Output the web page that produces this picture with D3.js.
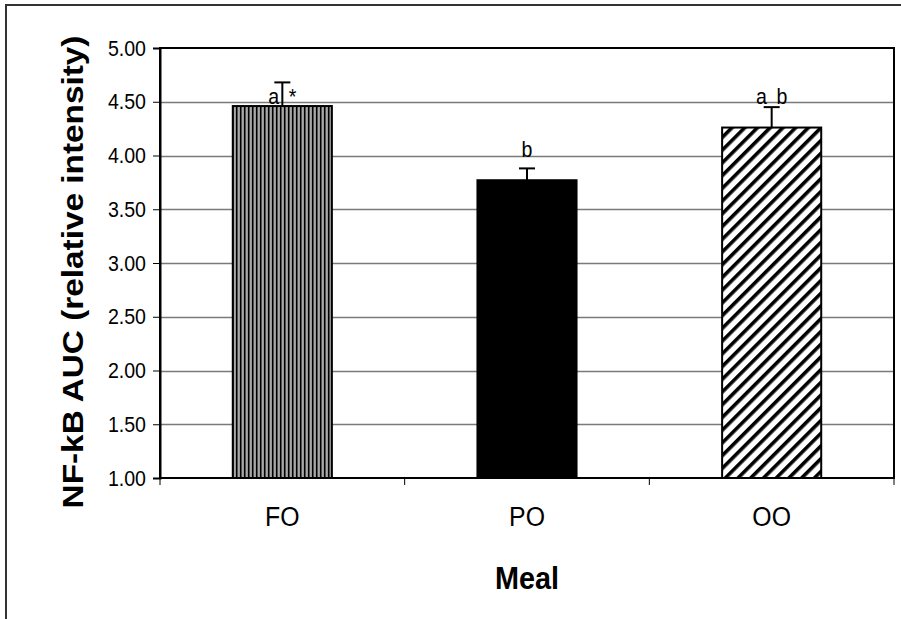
<!DOCTYPE html>
<html>
<head>
<meta charset="utf-8">
<script src="https://cdn.jsdelivr.net/npm/d3@7"></script>
<style>
  html, body { margin: 0; padding: 0; background: #fff; }
  svg { display: block; }
  text { font-family: Arial, "Liberation Sans", sans-serif; }
</style>
</head>
<body>
<svg id="chart" width="901" height="619"></svg>
<script>
// Meal groups and NF-kB AUC means with upper error
const meals = ["FO", "PO", "OO"];
const means = [4.46, 3.77, 4.26];
const errors = [0.22, 0.11, 0.19];
const sigLabels = ["a\u2002*", "b", "a\u2002b"];
const sigLabelY = [4.48, 3.99, 4.48];
const yTicks = [1.0, 1.5, 2.0, 2.5, 3.0, 3.5, 4.0, 4.5, 5.0];
const fills = ["url(#vstripe)", "#000", "url(#dstripe)"];

const svg = d3.select("#chart");
const W = 901, H = 619;
const m = { left: 160, right: 7, top: 48, bottom: 141 };
const pw = W - m.left - m.right, ph = H - m.top - m.bottom;
const sx = 0.89; // horizontal squeeze applied to text glyphs

// frame around the whole figure (top and left edges show)
svg.append("rect").attr("x", 6).attr("y", 5).attr("width", W).attr("height", H)
  .attr("fill", "none").attr("stroke", "#333").attr("stroke-width", 2);

const defs = svg.append("defs");
const vp = defs.append("pattern").attr("id", "vstripe").attr("patternUnits", "userSpaceOnUse")
  .attr("width", 4).attr("height", 4);
vp.append("rect").attr("width", 4).attr("height", 4).attr("fill", "#c8c8c8");
vp.append("rect").attr("x", 0).attr("width", 1.6).attr("height", 4).attr("fill", "#000");
vp.append("rect").attr("x", 2.6).attr("width", 1).attr("height", 4).attr("fill", "#777");

const dp = defs.append("pattern").attr("id", "dstripe").attr("patternUnits", "userSpaceOnUse")
  .attr("width", 9).attr("height", 9).attr("patternTransform", "rotate(45)");
dp.append("rect").attr("width", 9).attr("height", 9).attr("fill", "#fff");
dp.append("rect").attr("x", 0).attr("width", 3.6).attr("height", 9).attr("fill", "#000");

const g = svg.append("g").attr("transform", `translate(${m.left},${m.top})`);

const x = d3.scaleBand().domain(meals).range([0, pw]).paddingInner(0.595).paddingOuter(0.2975);
const y = d3.scaleLinear().domain([1, 5]).range([ph, 0]);

// gridlines
g.append("g").selectAll("line").data(yTicks.filter(t => t > 1 && t < 5)).join("line")
  .attr("x1", 0).attr("x2", pw)
  .attr("y1", d => Math.round(y(d)) + 0.5).attr("y2", d => Math.round(y(d)) + 0.5)
  .attr("stroke", "#7a7a7a").attr("stroke-width", 1.5);

// bars
g.append("g").selectAll("rect").data(meals).join("rect")
  .attr("x", d => x(d)).attr("width", x.bandwidth())
  .attr("y", (d, i) => y(means[i])).attr("height", (d, i) => ph - y(means[i]))
  .attr("fill", (d, i) => fills[i]).attr("stroke", "#000").attr("stroke-width", 2);

// error bars (upper only)
const eb = g.append("g").attr("stroke", "#000").attr("stroke-width", 2);
meals.forEach((d, i) => {
  const cx = x(d) + x.bandwidth() / 2;
  eb.append("line").attr("x1", cx).attr("x2", cx).attr("y1", y(means[i])).attr("y2", y(means[i] + errors[i]));
  eb.append("line").attr("x1", cx - 8).attr("x2", cx + 8).attr("y1", y(means[i] + errors[i])).attr("y2", y(means[i] + errors[i]));
});

// significance letters
g.append("g").selectAll("text").data(meals).join("text")
  .attr("transform", (d, i) => `translate(${x(d) + x.bandwidth() / 2},${y(sigLabelY[i])}) scale(${sx},1)`)
  .attr("text-anchor", "middle").attr("font-size", 22).attr("fill", "#000")
  .text((d, i) => sigLabels[i]);

// plot frame
g.append("rect").attr("width", pw).attr("height", ph).attr("fill", "none")
  .attr("stroke", "#000").attr("stroke-width", 2);

// y axis
const ya = g.append("g").call(d3.axisLeft(y).tickValues(yTicks).tickFormat(d3.format(".2f")).tickSize(7));
ya.select(".domain").attr("stroke", "#000").attr("stroke-width", 2);
ya.selectAll(".tick line").attr("stroke", "#000").attr("stroke-width", 1);
ya.selectAll("text").attr("font-size", 22).attr("fill", "#000")
  .attr("font-family", "Arial, 'Liberation Sans', sans-serif")
  .attr("x", -14 / sx).attr("transform", `scale(${sx},1)`);

// x axis: ticks at category boundaries
const bounds = d3.range(meals.length + 1).map(i => i * pw / meals.length);
g.append("g").selectAll("line").data(bounds).join("line")
  .attr("x1", d => d).attr("x2", d => d).attr("y1", ph).attr("y2", ph + 7)
  .attr("stroke", "#000").attr("stroke-width", 1);
g.append("g").selectAll("text").data(meals).join("text")
  .attr("transform", d => `translate(${x(d) + x.bandwidth() / 2},${526 - m.top}) scale(${sx + 0.03},1)`)
  .attr("text-anchor", "middle").attr("font-size", 27).attr("fill", "#000").text(d => d);

// axis titles
svg.append("text").attr("transform", `translate(${m.left + pw / 2},589) scale(0.93,1)`)
  .attr("text-anchor", "middle").attr("font-size", 31).attr("font-weight", "bold").text("Meal");
svg.append("text").attr("transform", `translate(83,272) rotate(-90) scale(1.13,1)`)
  .attr("text-anchor", "middle").attr("font-size", 29.5).attr("font-weight", "bold")
  .text("NF-kB AUC (relative intensity)");
</script>
</body>
</html>
